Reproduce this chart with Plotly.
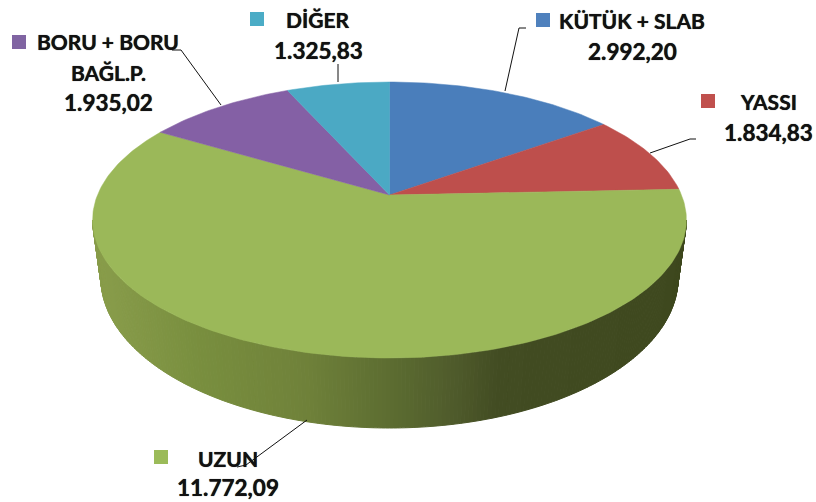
import math
import plotly.graph_objects as go

# ---- data (clockwise from 12 o'clock)
CATEGORIES = ["KÜTÜK + SLAB", "YASSI", "UZUN", "BORU + BORU BAĞL.P.", "DİĞER"]
VALUES = [2992.20, 1834.83, 11772.09, 1935.02, 1325.83]
COLORS = ["#4A7EBB", "#BE4F4C", "#9BB859", "#8460A5", "#4BA9C4"]
LEGEND_COLORS = ["#4F81BD", "#C0504D", "#9BBB59", "#8064A2", "#4BACC6"]

# ---- layout of the labels: (text lines with y), swatch, centre x
LABEL_LINES = [
    [("KÜTÜK + SLAB", 20), (None, 51)],
    [("YASSI", 101), (None, 132)],
    [("UZUN", 458), (None, 487)],
    [("BORU + BORU", 41), ("BAĞL.P.", 72), (None, 102)],
    [("DİĞER", 19), (None, 50)],
]
LABEL_X = [632, 768, 228, 108, 318]
SWATCH_XY = [(543, 20), (708, 101), (161, 457), (19, 42), (257, 19)]
LEADERS = [
    [(505, 91), (519, 28), (526, 28)],
    [(650, 153), (690, 139), (696, 139)],
    [(307, 420), (246, 465), (237, 467)],
    [(221, 105), (181, 50), (172, 50)],
    [(338, 82), (338, 64)],
]

# ---- projection of the disc
APEX_X, APEX_Y = 389.5, 195.0
TOP_Y, BOTTOM_Y = 82.0, 358.0
RX_C = 292.0
k = -(BOTTOM_Y - APEX_Y - (APEX_Y - TOP_Y)) / ((BOTTOM_Y - APEX_Y) + (APEX_Y - TOP_Y))
a = (BOTTOM_Y - APEX_Y) * (1 + k)
MID_Y = (TOP_Y + BOTTOM_Y) / 2
RY_TOP = (BOTTOM_Y - TOP_Y) / 2
FLOOR_CY, FLOOR_RY, FLOOR_SX = 278.0, 150.0, 0.972


def top(theta):
    t = math.radians(theta)
    u, v = math.sin(t), -math.cos(t)
    d = 1 + k * v
    return APEX_X + RX_C * u / d, APEX_Y + a * v / d


def floor(theta):
    x, y = top(theta)
    return APEX_X + (x - APEX_X) * FLOOR_SX, FLOOR_CY + (y - MID_Y) * FLOOR_RY / RY_TOP


SIDE_STOPS = [(100, (136, 156, 74)), (200, (120, 142, 62)), (300, (112, 130, 58)),
              (400, (90, 106, 48)), (450, (80, 92, 44)), (500, (66, 76, 34)),
              (690, (62, 72, 30))]


def side_color(x):
    for (x0, c0), (x1, c1) in zip(SIDE_STOPS, SIDE_STOPS[1:]):
        if x <= x1:
            f = max(0, (x - x0) / (x1 - x0))
            return "rgb(%d,%d,%d)" % tuple(round(p + (q - p) * f) for p, q in zip(c0, c1))
    return "rgb(62,72,30)"


fig = go.Figure()

# wall of the disc
right_ext = math.degrees(math.acos(k))  # theta where the silhouette is widest on the right
left_ext = 360 - right_ext
N = 240
for i in range(N):
    t0 = right_ext + (left_ext - right_ext) * i / N
    t1 = right_ext + (left_ext - right_ext) * (i + 1) / N
    pts = [top(t0), top(t1), floor(t1), floor(t0), top(t0)]
    col = side_color((pts[0][0] + pts[1][0]) / 2)
    fig.add_trace(go.Scatter(x=[p[0] for p in pts], y=[p[1] for p in pts], mode="lines",
                             fill="toself", fillcolor=col, line=dict(color=col, width=1),
                             hoverinfo="skip", showlegend=False))

# top faces, drawn from the values
total = sum(VALUES)
start = 0.0
for name, val, col in zip(CATEGORIES, VALUES, COLORS):
    sweep = 360 * val / total
    n = max(4, int(sweep))
    arc = [top(start + sweep * j / n) for j in range(n + 1)]
    xs = [APEX_X] + [p[0] for p in arc] + [APEX_X]
    ys = [APEX_Y] + [p[1] for p in arc] + [APEX_Y]
    fig.add_trace(go.Scatter(x=xs, y=ys, mode="lines", fill="toself", fillcolor=col,
                             line=dict(color=col, width=0.5), name=name,
                             hovertemplate=name + ": %{text}<extra></extra>",
                             text=[f"{val:,.2f}"] * len(xs), showlegend=False))
    start += sweep

# leader lines
for pts in LEADERS:
    fig.add_trace(go.Scatter(x=[p[0] for p in pts], y=[p[1] for p in pts], mode="lines",
                             line=dict(color="#111111", width=1), hoverinfo="skip",
                             showlegend=False))

# swatches
fig.add_trace(go.Scatter(x=[p[0] for p in SWATCH_XY], y=[p[1] for p in SWATCH_XY], mode="markers",
                         marker=dict(symbol="square", size=14, color=LEGEND_COLORS, line=dict(width=0)),
                         hoverinfo="skip", showlegend=False))


def tr(v):
    return f"{v:,.2f}".replace(",", "#").replace(".", ",").replace("#", ".")


annotations = []
for lines, x, val in zip(LABEL_LINES, LABEL_X, VALUES):
    for text, y in lines:
        annotations.append(dict(x=x, y=y, xref="x", yref="y", text=text if text else tr(val),
                                showarrow=False, xanchor="center", yanchor="middle",
                                font=dict(family="Lato", size=21 if text else 22.5, color="#111111",
                                          weight="bold", shadow="0 0 0.7px #111111")))

fig.update_layout(
    width=816, height=502, margin=dict(l=0, r=0, t=0, b=0),
    paper_bgcolor="white", plot_bgcolor="white", annotations=annotations,
    xaxis=dict(range=[0, 816], visible=False, fixedrange=True),
    yaxis=dict(range=[502, 0], visible=False, fixedrange=True),
)
fig.write_html("out.html", config={"displayModeBar": False},
               post_script="document.body.style.margin='0';document.documentElement.style.overflow='hidden';")
